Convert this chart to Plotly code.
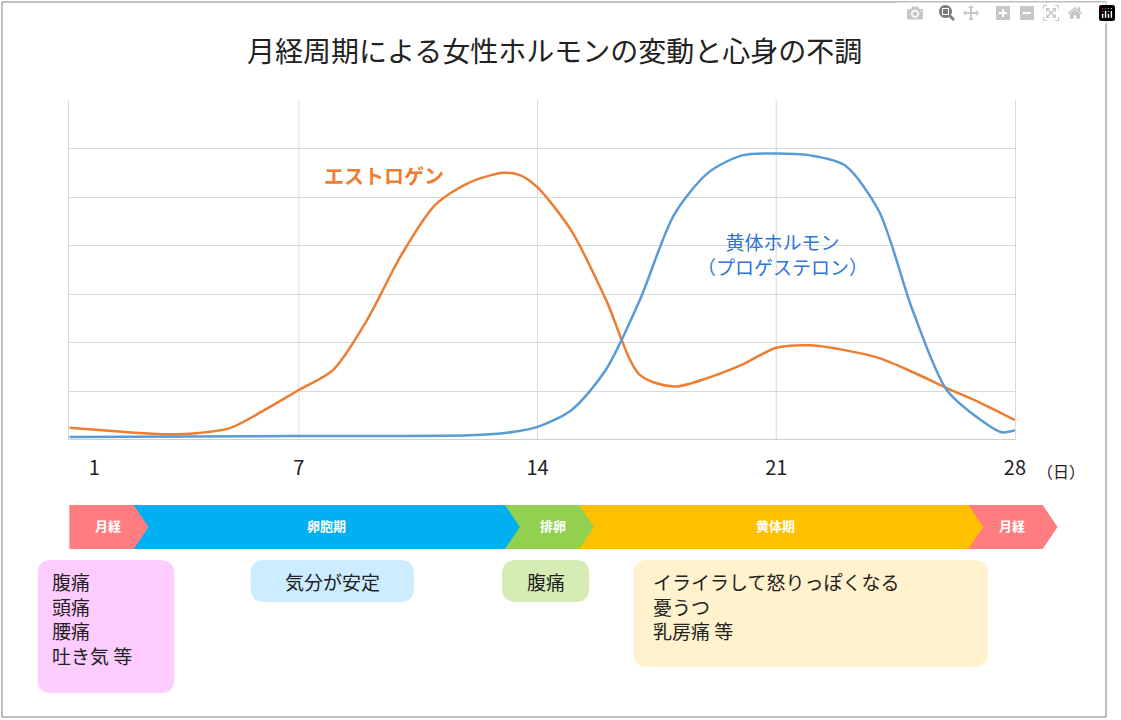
import plotly.graph_objects as go

days = [0.27,2,3,4,5,6,7,8,9,10,11,12,13,13.5,14,15,16,17,18,19,20,21,22,23,24,25,26,27,28]
estrogen = [0.25,0.16,0.12,0.14,0.25,0.62,1.03,1.44,2.47,3.8,4.84,5.3,5.5,5.45,5.2,4.3,2.9,1.34,1.1,1.28,1.55,1.9,1.95,1.85,1.69,1.4,1.07,0.76,0.41]
p_days = [0.27,7,12,13,14,15,16,17,18,19,20,21,22,23,24,25,26,27,27.6,28]
progesterone = [0.06,0.08,0.1,0.14,0.27,0.62,1.44,2.88,4.63,5.5,5.86,5.9,5.86,5.66,4.73,2.67,1.03,0.41,0.16,0.2]
tick_vals = [1,7,14,21,28]
phases = ["月経","卵胞期","排卵","黄体期","月経"]
phase_colors = ["#ff7c80","#00b0f0","#92d050","#ffc000","#ff7c80"]
symptoms = ["腹痛<br>頭痛<br>腰痛<br>吐き気 等","気分が安定","腹痛","イライラして怒りっぽくなる<br>憂うつ<br>乳房痛 等"]

W,H = 1121,720
X = lambda p: p/W
Y = lambda p: 1-p/H
FONT = "Noto Sans CJK JP"

fig = go.Figure()
fig.add_trace(go.Scatter(x=days,y=estrogen,mode="lines",line=dict(color="#ed7d31",width=2.5,shape="spline",smoothing=0.8)))
fig.add_trace(go.Scatter(x=p_days,y=progesterone,mode="lines",line=dict(color="#5b9bd5",width=2.5,shape="spline",smoothing=0.8)))

x0 = 0.27; x1 = 28
fig.update_layout(
    width=W,height=H,margin=dict(l=0,r=0,t=0,b=0),showlegend=False,
    paper_bgcolor="white",plot_bgcolor="white",font=dict(family=FONT),
    xaxis=dict(domain=[70/W,1025/W],range=[x0,x1],tickvals=tick_vals,showgrid=False,
               zeroline=False,ticks="",tickfont=dict(size=20,color="#222"),ticklabelstandoff=14),
    yaxis=dict(domain=[Y(440),Y(100)],range=[0,7],dtick=1,showticklabels=False,
               gridcolor="#d9d9d9",zeroline=False,showline=True,linecolor="#d9d9d9",mirror=True),
)
for d in [7,14,21]:
    fig.add_shape(type="line",xref="x",yref="y",x0=d,x1=d,y0=0,y1=7,line=dict(color="#d9d9d9",width=1),layer="below")
fig.add_shape(type="line",xref="x",yref="y",x0=x0,x1=x1,y0=0,y1=0,line=dict(color="#bfbfbf",width=1.5))

fig.add_shape(type="rect",xref="paper",yref="paper",x0=X(2),x1=X(1117),y0=Y(717),y1=Y(2),line=dict(color="#7f7f7f",width=1))

def path(pts):
    return "M " + " L ".join(f"{X(a)},{Y(b)}" for a,b in pts) + " Z"

def ann(x,y,text,size,color,xanchor="center",yanchor="middle",align="center"):
    fig.add_annotation(x=X(x),y=Y(y),xref="paper",yref="paper",text=text,showarrow=False,
                       xanchor=xanchor,yanchor=yanchor,align=align,font=dict(size=size,color=color))

segs = [(70,150,False,109),(135,525,True,330),(510,597,True,558),(585,985,True,783),(978,1053,True,1022)]
for (a,b,notch,tx),name,col in zip(segs,phases,phase_colors):
    pts = [(a,505),(b,505),(b+15,527),(b,549),(a,549)]
    if notch: pts.append((a+15,527))
    fig.add_shape(type="path",xref="paper",yref="paper",path=path(pts),fillcolor=col,line=dict(width=0))
    ann(tx,525,f"<b>{name}</b>",13,"white")

def rrect(a,t,b,btm,r=14):
    return (f"M {X(a+r)},{Y(t)} L {X(b-r)},{Y(t)} Q {X(b)},{Y(t)} {X(b)},{Y(t+r)} L {X(b)},{Y(btm-r)} "
            f"Q {X(b)},{Y(btm)} {X(b-r)},{Y(btm)} L {X(a+r)},{Y(btm)} Q {X(a)},{Y(btm)} {X(a)},{Y(btm-r)} "
            f"L {X(a)},{Y(t+r)} Q {X(a)},{Y(t)} {X(a+r)},{Y(t)} Z")
boxes = [((38,560,176,693),"#ffccff",50,"left"),((253,560,418,602),"#ccecff",336,"center"),
         ((507,560,595,602),"#d6ecb5",551,"center"),((640,560,998,667),"#fff2cc",657,"left")]
for ((a,t,b,btm),col,tx,al),txt in zip(boxes,symptoms):
    fig.add_shape(type="path",xref="paper",yref="paper",path=rrect(a,t,b,btm),fillcolor=col,line=dict(width=0))
    ann(tx,566,txt,19,"#222",xanchor="left" if al=="left" else "center",yanchor="top",align="left")

ann(560,50,"月経周期による女性ホルモンの変動と心身の不調",28,"#222")
ann(388,175,"<b>エストロゲン</b>",20,"#ed7d31")
ann(790,254,"黄体ホルモン<br>（プロゲステロン）",19,"#2e75d6")
ann(1045,471,"（日）",16,"#222",xanchor="left")

fig.write_html("out.html",post_script="document.body.style.margin='0';document.body.style.padding='0';")
